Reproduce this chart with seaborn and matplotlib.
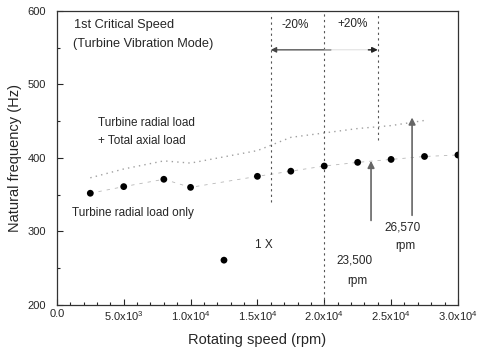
import pandas as pd
import seaborn as sns
import matplotlib.pyplot as plt
from matplotlib.ticker import MultipleLocator

# Data
speed_radial = [2500, 5000, 8000, 10000, 12500, 15000, 17500, 20000, 22500, 25000, 27500, 30000]
freq_radial = [352, 361, 371, 360, 261, 375, 382, 389, 394, 398, 402, 404]

speed_axial = [2500, 5000, 8000, 10000, 15000, 17500, 20000, 22500, 25000, 27500]
freq_axial = [373, 385, 396, 393, 410, 428, 434, 440, 444, 451]

x_ticks = [0, 5000, 10000, 15000, 20000, 25000, 30000]
x_tick_labels = ["0.0", r"5.0x10$^3$", r"1.0x10$^4$", r"1.5x10$^4$",
                 r"2.0x10$^4$", r"2.5x10$^4$", r"3.0x10$^4$"]
y_ticks = [200, 300, 400, 500, 600]

design_speed = 20000
speed_low = 16000
speed_high = 24000
crit_1 = 23500
crit_2 = 26570
dip_speed = 12500  # isolated point, not on the connecting curve

radial = pd.DataFrame({"speed": speed_radial, "freq": freq_radial})
axial = pd.DataFrame({"speed": speed_axial, "freq": freq_axial})

sns.set_style("ticks")
plt.rcParams["font.family"] = ["Liberation Sans", "DejaVu Sans"]
plt.rcParams["mathtext.fontset"] = "custom"
plt.rcParams["mathtext.rm"] = "Liberation Sans"
plt.rcParams["mathtext.it"] = "Liberation Sans"

fig = plt.figure(figsize=(4.78, 3.51), dpi=100)
ax = fig.add_axes([0.119, 0.131, 0.839, 0.838])

# combined load curve (faint dotted)
sns.lineplot(data=axial, x="speed", y="freq", ax=ax, color="#a0a0a0",
             linestyle=(0, (1, 3)), linewidth=1.0)
# radial load only curve
sns.lineplot(data=radial[radial["speed"] != dip_speed], x="speed", y="freq",
             ax=ax, color="#b8b8b8", linestyle=(0, (4, 6)), linewidth=0.6)
sns.scatterplot(data=radial, x="speed", y="freq", ax=ax, color="black",
                s=24, edgecolor="none", zorder=5)

# design speed and +/-20% margins
ax.vlines(speed_low, 340, 597, colors="#555555", linestyles=(0, (2, 3)), linewidth=0.8)
ax.vlines(design_speed, 200, 597, colors="#555555", linestyles=(0, (2, 3)), linewidth=0.8)
ax.vlines(speed_high, 425, 597, colors="#555555", linestyles=(0, (2, 3)), linewidth=0.8)

ax.annotate("", xy=(speed_low, 547), xytext=(design_speed + 500, 547),
            arrowprops=dict(arrowstyle="-|>", color="#444444", lw=0.9,
                            mutation_scale=8, shrinkA=0, shrinkB=0))
ax.annotate("", xy=(speed_high, 547), xytext=(design_speed, 547),
            arrowprops=dict(arrowstyle="-|>", color="#d0d0d0", lw=0.5,
                            mutation_scale=8, shrinkA=0, shrinkB=0))
ax.annotate("", xy=(speed_high, 547), xytext=(speed_high - 700, 547),
            arrowprops=dict(arrowstyle="-|>", color="#222222", lw=1.0,
                            mutation_scale=8, shrinkA=0, shrinkB=0))

# critical speed arrows
ax.annotate("", xy=(crit_1, 396), xytext=(crit_1, 315),
            arrowprops=dict(arrowstyle="-|>", color="#666666", lw=1.2,
                            mutation_scale=10, shrinkA=0, shrinkB=0))
ax.annotate("", xy=(crit_2, 455), xytext=(crit_2, 322),
            arrowprops=dict(arrowstyle="-|>", color="#666666", lw=1.2,
                            mutation_scale=10, shrinkA=0, shrinkB=0))

# texts
ax.text(1300, 581, "1st Critical Speed", fontsize=9.2, va="center")
ax.text(1200, 555, "(Turbine Vibration Mode)", fontsize=9.2, va="center")
ax.text(3100, 447, "Turbine radial load", fontsize=8.5, va="center")
ax.text(3100, 423, "+ Total axial load", fontsize=8.5, va="center")
ax.text(1150, 325, "Turbine radial load only", fontsize=8.5, va="center")
ax.text(14800, 281, "1 X", fontsize=8.5, va="center")
ax.text(17800, 581, "-20%", fontsize=8.5, va="center", ha="center")
ax.text(22100, 582, "+20%", fontsize=8.5, va="center", ha="center")
ax.text(22300, 260, "23,500", fontsize=8.5, va="center", ha="center")
ax.text(22500, 233, "rpm", fontsize=8.5, va="center", ha="center")
ax.text(25850, 306, "26,570", fontsize=8.5, va="center", ha="center")
ax.text(26050, 280, "rpm", fontsize=8.5, va="center", ha="center")

ax.set_xlim(0, 30000)
ax.set_ylim(200, 600)
ax.set_xticks(x_ticks)
ax.set_xticklabels(x_tick_labels)
ax.set_yticks(y_ticks)
ax.xaxis.set_minor_locator(MultipleLocator(1000))
ax.yaxis.set_minor_locator(MultipleLocator(50))
ax.tick_params(which="both", direction="in", labelsize=8, width=0.8)
ax.tick_params(which="major", length=4)
ax.tick_params(which="minor", length=2)
ax.tick_params(axis="x", pad=3)
ax.tick_params(axis="y", pad=8)

ax.set_xlabel("Rotating speed (rpm)", fontsize=10.5, labelpad=7)
ax.set_ylabel("Natural frequency (Hz)", fontsize=10.5, labelpad=4)
for side in ax.spines.values():
    side.set_linewidth(0.9)
    side.set_color("#333333")

fig.savefig("out.png", dpi=100)
